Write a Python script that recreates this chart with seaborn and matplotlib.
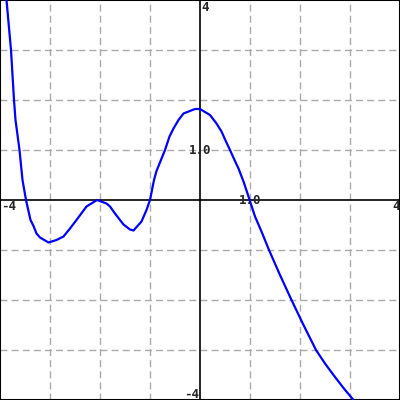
import numpy as np
import pandas as pd
import matplotlib
matplotlib.use('Agg')
import matplotlib.pyplot as plt
import seaborn as sns

# points
x_vals = [-3.87, -3.78, -3.72, -3.69, -3.61, -3.55, -3.48, -3.39, -3.33, -3.27,
          -3.20, -3.03, -2.87, -2.73, -2.60, -2.47, -2.27, -2.06, -1.87, -1.80,
          -1.70, -1.60, -1.53, -1.40, -1.33, -1.17, -1.07, -1.00, -0.92, -0.87,
          -0.70, -0.61, -0.53, -0.43, -0.33, -0.10, 0.00, 0.20, 0.33, 0.43,
          0.52, 0.60, 0.69, 0.77, 0.87, 0.97, 1.10, 1.23, 1.38, 1.60,
          1.83, 2.07, 2.32, 2.50, 2.67, 2.87, 3.07]
y_vals = [4.00, 3.00, 2.00, 1.60, 1.00, 0.40, 0.00, -0.40, -0.52, -0.67,
          -0.75, -0.85, -0.80, -0.73, -0.57, -0.40, -0.13, 0.00, -0.07, -0.13,
          -0.27, -0.40, -0.49, -0.59, -0.61, -0.43, -0.20, 0.00, 0.40, 0.58,
          1.00, 1.27, 1.43, 1.60, 1.73, 1.82, 1.82, 1.70, 1.53, 1.37,
          1.17, 1.00, 0.80, 0.63, 0.37, 0.07, -0.33, -0.63, -1.00, -1.50,
          -2.00, -2.50, -3.00, -3.27, -3.50, -3.76, -4.00]

x_min, x_max = -4, 4
y_min, y_max = -4, 4
grid_ticks = [-3, -2, -1, 1, 2, 3]

df = pd.DataFrame({'x': x_vals, 'y': y_vals})

sns.set_style('white')
fig = plt.figure(figsize=(4, 4), dpi=100)
ax = fig.add_axes([0, 0, 1, 1])

# dashed grid
for t in grid_ticks:
    ax.axvline(t, color='#aaaaaa', lw=1, linestyle=(0, (5, 3)), zorder=1)
    ax.axhline(t, color='#aaaaaa', lw=1, linestyle=(0, (5, 3)), zorder=1)

# axes through origin
ax.axhline(0, color='black', lw=1.2, zorder=2)
ax.axvline(0, color='black', lw=1.2, zorder=2)

sns.lineplot(data=df, x='x', y='y', sort=False, estimator=None,
             color='#0000ff', lw=1.6, ax=ax, zorder=3)

ax.set_xlim(x_min, x_max)
ax.set_ylim(y_min, y_max)
ax.set_xticks([])
ax.set_yticks([])
ax.set_xlabel('')
ax.set_ylabel('')
for s in ax.spines.values():
    s.set_visible(True)
    s.set_color('black')
    s.set_linewidth(1.5)

font = dict(family='DejaVu Sans Mono', fontweight='bold', fontsize=9, zorder=4)
ax.text(-3.97, -0.14, '-4', ha='left', va='center', **font)
ax.text(3.99, -0.14, '4', ha='right', va='center', **font)
ax.text(0.02, 3.85, '4', ha='left', va='center', **font)
ax.text(-0.02, -3.88, '-4', ha='right', va='center', **font)
ax.text(0, 0.98, '1.0', ha='center', va='center', **font)
ax.text(1, -0.02, '1.0', ha='center', va='center', **font)

fig.savefig('out.png', dpi=100)
